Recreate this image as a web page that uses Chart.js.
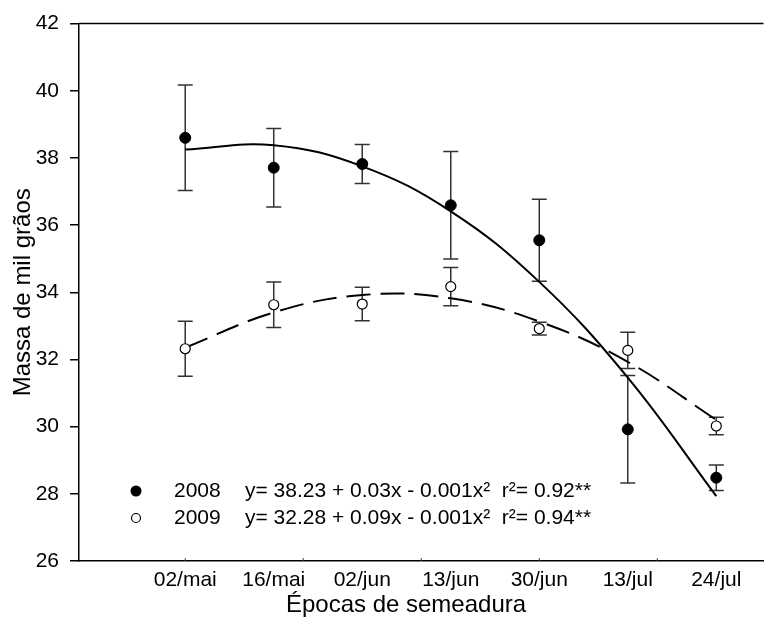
<!DOCTYPE html>
<html>
<head>
<meta charset="utf-8">
<script src="https://cdn.jsdelivr.net/npm/chart.js@4.4.0/dist/chart.umd.min.js"></script>
<style>
    html, body { margin: 0; padding: 0; background: #fff; }
    #wrap { width: 770px; height: 628px; }
</style>
</head>
<body>
<div id="wrap"><canvas id="massChart" width="770" height="628"></canvas></div>
<script>
// sowing dates and their position on the day axis
const sowingDates = ['02/mai', '16/mai', '02/jun', '13/jun', '30/jun', '13/jul', '24/jul'];
const sowingX = [0, 15, 30, 45, 60, 75, 90];
const axisMarksX = [0, 20, 40, 60, 80];

// thousand grain mass (g) with error bars
const mass2008 = [38.6, 37.71, 37.82, 36.59, 35.55, 29.92, 28.48];
const err2008 = [1.57, 1.17, 0.58, 1.6, 1.22, 1.6, 0.38];
const mass2009 = [32.32, 33.63, 33.65, 34.17, 32.92, 32.27, 30.02];
const err2009 = [0.82, 0.68, 0.5, 0.57, 0.19, 0.54, 0.26];

// fitted quadratic trend, read at each sowing date
const fit2008 = [38.25, 38.38, 37.75, 36.41, 34.31, 31.46, 27.93];
const fit2009 = [32.35, 33.4, 33.92, 33.82, 33.13, 31.93, 30.2];

const seriesYears = ['2008', '2009'];
const fitEquations = [
    'y= 38.23 + 0.03x - 0.001x\u00b2  r\u00b2= 0.92**',
    'y= 32.28 + 0.09x - 0.001x\u00b2  r\u00b2= 0.94**'
];
const xTitle = 'Épocas de semeadura';
const yTitle = 'Massa de mil grãos';

const FONT = '"Liberation Sans", Arial, sans-serif';

const toPoints = vals => vals.map((v, i) => ({ x: sowingX[i], y: v }));

const errorBarPlugin = {
    id: 'errorBars',
    beforeDatasetsDraw(chart) {
        const { ctx, scales: { x, y } } = chart;
        ctx.save();
        ctx.strokeStyle = '#333';
        ctx.lineWidth = 1.5;
        [[mass2008, err2008], [mass2009, err2009]].forEach(([vals, errs]) => {
            vals.forEach((v, i) => {
                const px = x.getPixelForValue(sowingX[i]);
                const top = y.getPixelForValue(v + errs[i]);
                const bot = y.getPixelForValue(v - errs[i]);
                ctx.beginPath();
                ctx.moveTo(px, top); ctx.lineTo(px, bot);
                ctx.moveTo(px - 7.5, top); ctx.lineTo(px + 7.5, top);
                ctx.moveTo(px - 7.5, bot); ctx.lineTo(px + 7.5, bot);
                ctx.stroke();
            });
        });
        ctx.restore();
    }
};

const framePlugin = {
    id: 'frame',
    afterDraw(chart) {
        const { ctx, chartArea: area, scales: { x } } = chart;
        ctx.save();
        ctx.strokeStyle = '#000';
        ctx.lineWidth = 1.5;
        ctx.beginPath();
        ctx.moveTo(area.left, area.top);
        ctx.lineTo(area.right, area.top);
        ctx.stroke();
        // small inward marks on the day axis
        ctx.lineWidth = 1;
        ctx.strokeStyle = '#444';
        axisMarksX.forEach(v => {
            const px = x.getPixelForValue(v);
            ctx.beginPath();
            ctx.moveTo(px, area.bottom);
            ctx.lineTo(px, area.bottom - 3);
            ctx.stroke();
        });
        // x axis title sits a little left of the plot centre
        ctx.font = '24px ' + FONT;
        ctx.fillStyle = '#000';
        ctx.textAlign = 'center';
        ctx.textBaseline = 'middle';
        ctx.fillText(xTitle, area.left + 327, area.bottom + 44);
        ctx.restore();
    }
};

const legendPlugin = {
    id: 'fitLegend',
    afterDraw(chart) {
        const { ctx, chartArea: area } = chart;
        const markerX = area.left + 57;
        ctx.save();
        ctx.font = '21px ' + FONT;
        ctx.fillStyle = '#000';
        ctx.textBaseline = 'middle';
        seriesYears.forEach((yr, i) => {
            const rowY = area.bottom - 70 + i * 27;
            ctx.beginPath();
            if (i === 0) {
                ctx.arc(markerX, rowY, 5.5, 0, Math.PI * 2);
                ctx.fill();
            } else {
                ctx.arc(markerX, rowY, 4.5, 0, Math.PI * 2);
                ctx.fillStyle = '#fff';
                ctx.fill();
                ctx.lineWidth = 1.2;
                ctx.strokeStyle = '#000';
                ctx.stroke();
                ctx.fillStyle = '#000';
            }
            ctx.fillText(yr, area.left + 95, rowY);
            ctx.fillText(fitEquations[i], area.left + 166, rowY);
        });
        ctx.restore();
    }
};

new Chart(document.getElementById('massChart'), {
    type: 'scatter',
    data: {
        datasets: [
            {
                label: seriesYears[0],
                data: toPoints(mass2008),
                pointRadius: 5.5,
                pointBackgroundColor: '#000',
                pointBorderColor: '#000',
                pointBorderWidth: 1
            },
            {
                label: seriesYears[1],
                data: toPoints(mass2009),
                pointRadius: 5,
                pointBackgroundColor: '#fff',
                pointBorderColor: '#000',
                pointBorderWidth: 1.2
            },
            {
                label: 'ajuste ' + seriesYears[0],
                data: toPoints(fit2008),
                showLine: true,
                pointRadius: 0,
                borderColor: '#000',
                borderWidth: 2,
                tension: 0.4
            },
            {
                label: 'ajuste ' + seriesYears[1],
                data: toPoints(fit2009),
                showLine: true,
                pointRadius: 0,
                borderColor: '#000',
                borderWidth: 2,
                borderDash: [24, 10],
                tension: 0.4
            }
        ]
    },
    options: {
        responsive: false,
        animation: false,
        layout: { padding: { top: 17, right: 0, left: 0, bottom: 0 } },
        plugins: { legend: { display: false }, tooltip: { enabled: false } },
        scales: {
            x: {
                type: 'linear',
                min: -18,
                max: 98,
                afterBuildTicks(scale) {
                    scale.ticks = sowingX.map(v => ({ value: v }));
                },
                afterFit(scale) { scale.height = 67; },
                ticks: {
                    color: '#000',
                    font: { family: FONT, size: 21 },
                    padding: 7,
                    maxRotation: 0,
                    autoSkip: false,
                    callback: (val) => sowingDates[sowingX.indexOf(val)]
                },
                grid: { display: false, drawTicks: false },
                border: { display: true, color: '#000', width: 1.5 }
            },
            y: {
                min: 26,
                max: 42,
                afterFit(scale) { scale.width = 79; },
                ticks: {
                    stepSize: 2,
                    color: '#000',
                    font: { family: FONT, size: 21 },
                    padding: 11
                },
                grid: {
                    display: true,
                    drawOnChartArea: false,
                    drawTicks: true,
                    tickLength: 9,
                    color: '#000',
                    lineWidth: 1.5
                },
                border: { display: true, color: '#000', width: 1.5 },
                title: {
                    display: true,
                    text: yTitle,
                    color: '#000',
                    font: { family: FONT, size: 24 },
                    padding: { top: 9, bottom: 0 }
                }
            }
        }
    },
    plugins: [errorBarPlugin, framePlugin, legendPlugin]
});
</script>
</body>
</html>
